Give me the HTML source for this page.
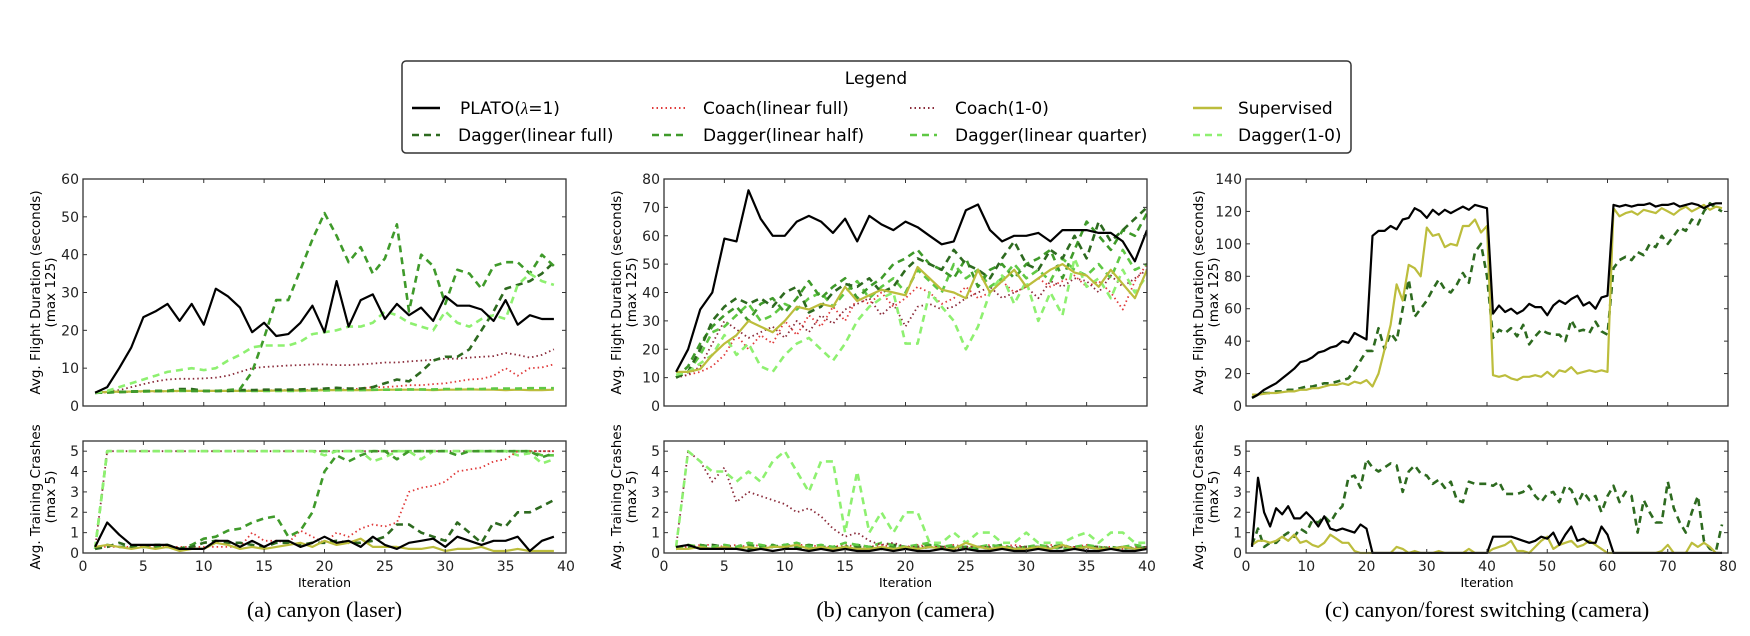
<!DOCTYPE html>
<html><head><meta charset="utf-8"><style>
body{margin:0;background:#fff}
svg{display:block;font-family:"DejaVu Sans","Liberation Sans",sans-serif}
</style></head><body>
<svg id="fig" width="1750" height="636" viewBox="0 0 1750 636">
<g id="legend">
<rect x="402" y="61" width="949" height="92" rx="4" fill="#fff" stroke="#333" stroke-width="1.5"/>
<text x="876" y="84" font-size="17" text-anchor="middle">Legend</text>
<g><line x1="412" y1="108" x2="440" y2="108" stroke="#000" stroke-width="2.5"/><text x="460" y="114" font-size="17">PLATO(<tspan font-family="Liberation Serif" font-style="italic">λ</tspan>=1)</text></g>
<g><line x1="652" y1="108" x2="685" y2="108" stroke="#e03a3a" stroke-width="2" stroke-dasharray="1.5,3"/><text x="703" y="114" font-size="17">Coach(linear full)</text></g>
<g><line x1="910" y1="108" x2="937" y2="108" stroke="#8a2b3a" stroke-width="2" stroke-dasharray="1.5,3"/><text x="955" y="114" font-size="17">Coach(1-0)</text></g>
<g><line x1="1193" y1="108" x2="1222" y2="108" stroke="#bcbd3c" stroke-width="2.5"/><text x="1238" y="114" font-size="17">Supervised</text></g>
<g><line x1="412" y1="135" x2="440" y2="135" stroke="#2d6a1f" stroke-width="2.5" stroke-dasharray="7,5"/><text x="458" y="141" font-size="17">Dagger(linear full)</text></g>
<g><line x1="652" y1="135" x2="685" y2="135" stroke="#3f9a2a" stroke-width="2.5" stroke-dasharray="7,5"/><text x="703" y="141" font-size="17">Dagger(linear half)</text></g>
<g><line x1="910" y1="135" x2="937" y2="135" stroke="#5fc844" stroke-width="2.5" stroke-dasharray="7,5"/><text x="955" y="141" font-size="17">Dagger(linear quarter)</text></g>
<g><line x1="1193" y1="135" x2="1222" y2="135" stroke="#8ef070" stroke-width="2.5" stroke-dasharray="7,5"/><text x="1238" y="141" font-size="17">Dagger(1-0)</text></g>
</g>
</svg>
<script>
// ---------- data: panel (a) canyon laser ----------
const aPlato=[3.5,5,10,15.5,23.5,25,27,22.5,27,21.5,31,29,26,19.5,22,18.5,19,22,26.5,19.5,33,21,28,29.5,23,27,24,26,22.5,29,26.5,26.5,25.5,22.5,28,21.5,24,23,23];
const aDagHalf=[3.5,3.6,3.7,3.8,3.9,4,4,4.2,4,4,4,4.2,4.5,9,18,28,28,36,44,51,45,38,42,35,39,48,25,40,37,27,36,35,31,37,38,38,35,40,37];
const aDagFull=[3.5,3.6,3.7,3.8,3.9,4,4,4.5,4.5,4,4,4,4.2,4.2,4.3,4.3,4.3,4.4,4.5,4.6,4.8,4.6,4.6,5,6,7,6.5,9,12,13,13,15,20,25,31,32,33,35,38];
const aDagQuarter=[3.5,3.6,3.7,3.8,3.8,3.9,4,4,4,4,4,4,4,4,4,4,4,4,4.1,4.1,4.2,4.2,4.2,4.3,4.3,4.3,4.4,4.4,4.4,4.5,4.5,4.5,4.5,4.6,4.6,4.6,4.7,4.7,4.7];
const aDag10=[3.5,4,5,6,7,8,9,9.5,10,9.5,10,12,13.5,15.5,16,16,16,17,19,19.5,20,21,21,22,25,24,22,21,20,25,22,21,23,24,23,32,35,33,32];
const aCoachFull=[3.5,3.6,3.7,3.7,3.8,3.8,3.9,3.9,4,4,4,4,4.1,4.1,4.1,4.2,4.2,4.2,4.3,4.3,4.3,4.4,4.6,5,5,5.2,5.5,5.5,5.8,6,6.5,7,7.2,8,10,8,10,10.2,11];
const aCoach10=[3.5,3.8,4.2,5,5.8,6.5,7,7.2,7.2,7.3,7.5,8,9,10,10.3,10.5,10.7,10.8,11,11,10.8,10.8,11,11.2,11.5,11.5,11.8,12,12.2,12.5,12.5,12.8,13,13.2,14,13.5,12.8,13.5,15];
const aSup=[3.6,3.7,3.8,3.8,3.9,3.9,3.9,4,4,4,4,4,4,4,4,4.1,4.1,4.1,4.1,4.2,4.2,4.2,4.2,4.2,4.3,4.3,4.3,4.3,4.2,4.3,4.3,4.4,4.3,4.3,4.2,4.3,4.2,4.2,4.3];
const abPlato=[0.3,1.5,0.9,0.4,0.4,0.4,0.4,0.2,0.2,0.2,0.6,0.6,0.3,0.6,0.3,0.6,0.6,0.3,0.5,0.8,0.5,0.6,0.3,0.8,0.4,0.2,0.5,0.6,0.7,0.3,0.8,0.6,0.4,0.6,0.6,0.8,0.1,0.6,0.8];
const abSup=[0.3,0.4,0.3,0.2,0.3,0.2,0.3,0.1,0.2,0.2,0.5,0.4,0.2,0.3,0.2,0.3,0.4,0.5,0.3,0.6,0.4,0.5,0.7,0.3,0.3,0.3,0.2,0.2,0.3,0.1,0.2,0.2,0.3,0.1,0.1,0.2,0.1,0.1,0.1];
const abDagHalf=[0.2,0.4,0.3,0.3,0.3,0.3,0.3,0.2,0.4,0.7,0.8,1.1,1.2,1.5,1.7,1.8,0.8,1.1,2,4,4.8,4.5,4.8,5,5,4.6,5,5,5,5,4.8,5,5,5,5,5,5,4.7,4.9];
const abDagFull=[0.2,0.3,0.5,0.3,0.3,0.4,0.4,0.2,0.3,0.5,0.6,0.5,0.5,0.4,0.3,0.5,0.5,0.4,0.5,0.5,0.6,0.5,0.5,0.6,0.8,1.4,1.4,1,0.8,0.6,1.5,1,0.5,1.5,1.3,2,2,2.3,2.6];
const abCoachFull=[0.3,0.3,0.3,0.3,0.3,0.3,0.3,0.3,0.3,0.3,0.3,0.3,0.3,1,0.6,0.6,0.5,1.1,0.8,0.5,1,0.8,1.2,1.4,1.3,1.5,3,3.2,3.3,3.5,4,4.1,4.2,4.5,4.6,5,5,5,5];
const abCoach10=[0.2,5,5,5,5,5,5,5,5,5,5,5,5,5,5,5,5,5,5,5,5,5,5,5,5,5,5,5,5,5,5,5,5,5,5,5,5,5,5];
const abDagQuarter=[0.2,5,5,5,5,5,5,5,5,5,5,5,5,5,5,5,5,5,5,5,5,5,5,5,5,5,5,5,5,5,5,5,5,5,5,5,5,4.8,4.8];
const abDag10=[0.2,5,5,5,5,5,5,5,5,5,5,5,5,5,5,5,5,5,5,4.8,5,5,5,4.5,4.7,5,5,4.6,5,5,5,5,5,5,5,4.8,4.9,4.4,4.6];
// ---------- data: panel (b) canyon camera ----------
const bPlato=[12,20,34,40,59,58,76,66,60,60,65,67,65,61,66,58,67,64,62,65,63,60,57,58,69,71,62,58,60,60,61,58,62,62,62,61,61,58,51,62];
const bSup=[12,12,13,18,22,25,30,28,26,30,35,34,36,35,42,37,39,41,40,39,49,45,41,40,38,48,40,44,48,42,45,48,50,47,46,42,48,43,38,48];
const bDag10=[11,12,15,18,25,18,22,14,12,18,22,24,20,16,22,30,35,38,40,22,22,40,35,30,20,28,40,46,36,44,30,40,32,52,42,45,38,48,40,46];
const bDagFull=[10,12,20,30,35,38,36,38,35,40,42,33,35,40,43,42,45,40,42,48,52,50,48,55,50,48,45,52,58,50,48,55,52,60,52,65,58,62,66,70];
const bDagHalf=[10,14,22,28,32,35,30,36,38,33,38,44,38,42,45,38,42,45,50,52,55,50,48,45,52,42,48,50,45,50,52,55,45,55,65,60,55,62,60,68];
const bDagQuarter=[10,12,18,26,28,32,36,30,32,36,34,38,40,35,40,44,38,42,45,40,48,44,40,50,45,48,42,45,50,45,48,44,52,48,46,50,45,55,48,50];
const bCoachFull=[10,11,12,14,18,25,20,25,22,30,25,32,28,35,30,38,36,40,35,38,42,40,36,38,42,38,40,44,40,42,45,42,44,46,42,44,40,34,44,50];
const bCoach10=[10,11,14,22,30,27,24,26,28,24,30,26,32,29,34,36,38,32,36,28,35,36,34,35,38,40,42,38,40,42,38,44,42,45,44,40,46,42,45,48];
const bbDag10=[0.3,5,4.5,4,4,3.5,4,3.5,4.5,5,4,3,4.5,4.5,1,4,1,2,1,2,2,0.5,0.5,1,0.5,1,1,0.5,0.5,1,0.5,0.5,0.5,0.8,1,0.5,1,1,0.5,0.5];
const bbCoach10=[0.3,5,4.5,3.5,4.2,2.5,3,2.8,2.6,2.4,2,2.2,1.8,1.2,0.8,1,0.6,0.4,0.5,0.3,0.3,0.3,0.3,0.2,0.3,0.3,0.3,0.2,0.3,0.3,0.2,0.3,0.3,0.3,0.2,0.3,0.2,0.3,0.2,0.3];
const bbDagQuarter=[0.2,0.4,0.3,0.3,0.4,0.3,0.5,0.4,0.3,0.4,0.5,0.3,0.4,0.3,0.5,0.4,0.3,0.5,0.4,0.3,0.4,0.5,0.3,0.4,0.2,0.3,0.4,0.3,0.2,0.3,0.4,0.3,0.2,0.3,0.4,0.3,0.2,0.3,0.4,0.3];
const bbDagHalf=[0.3,0.3,0.4,0.3,0.2,0.3,0.4,0.3,0.4,0.2,0.3,0.4,0.3,0.2,0.3,0.4,0.3,0.2,0.3,0.2,0.3,0.4,0.2,0.3,0.3,0.2,0.3,0.4,0.2,0.3,0.2,0.3,0.4,0.2,0.3,0.2,0.3,0.2,0.3,0.2];
const bbDagFull=[0.2,0.3,0.3,0.4,0.3,0.3,0.2,0.3,0.3,0.4,0.3,0.2,0.3,0.3,0.2,0.3,0.3,0.2,0.4,0.3,0.2,0.3,0.3,0.2,0.3,0.3,0.2,0.3,0.2,0.3,0.3,0.2,0.3,0.2,0.3,0.3,0.2,0.3,0.2,0.3];
const bbCoachFull=[0.2,0.3,0.4,0.4,0.3,0.4,0.3,0.4,0.3,0.3,0.4,0.4,0.3,0.3,0.4,0.3,0.3,0.4,0.3,0.3,0.4,0.3,0.3,0.4,0.3,0.3,0.4,0.3,0.4,0.3,0.3,0.4,0.3,0.3,0.4,0.3,0.3,0.2,0.3,0.3];
const bbPlato=[0.3,0.4,0.2,0.2,0.2,0.2,0.1,0.2,0.1,0.2,0.2,0.1,0.2,0.1,0.2,0.1,0.1,0.2,0.1,0.2,0.1,0.1,0.2,0.1,0.2,0.1,0.1,0.2,0.1,0.1,0.2,0.1,0.1,0.2,0.1,0.1,0.2,0.1,0.1,0.2];
const bbSup=[0.2,0.2,0.3,0.2,0.3,0.2,0.3,0.2,0.3,0.3,0.4,0.2,0.3,0.2,0.3,0.2,0.2,0.3,0.2,0.3,0.2,0.3,0.2,0.2,0.5,0.3,0.2,0.3,0.2,0.2,0.3,0.2,0.4,0.2,0.3,0.2,0.2,0.3,0.2,0.2];
// ---------- data: panel (c) switching ----------
const cPlato=[5,7,10,12,14,17,20,23,27,28,30,33,34,36,37,40,39,45,43,41,105,108,108,111,109,115,116,122,120,116,121,118,121,119,121,123,121,124,123,122,57,62,58,60,57,59,63,61,61,56,62,65,63,66,68,62,64,60,67,68,124,123,124,123,124,124,125,123,124,124,125,123,124,125,124,122,124,125,125];
const cSup=[7,7,7.5,8,8,8.5,9,9,10,10,11,11,12,13,13,14,13,15,14,16,12,20,35,50,75,65,87,85,80,110,105,106,98,100,99,111,111,115,107,111,19,18,19,17,16,18,18,19,18,21,18,22,21,24,20,21,22,21,22,21,122,117,119,120,118,121,120,119,122,120,118,121,123,120,122,124,121,123,122];
const cDagFull=[5,7,8,8,9,9,10,10,11,12,12,13,14,14,15,16,17,22,28,34,34,48,35,45,40,60,78,55,60,65,72,78,72,70,75,82,76,95,100,80,42,47,45,48,43,50,38,43,47,45,44,44,40,53,46,47,45,52,46,44,85,90,92,90,95,93,100,98,105,100,105,110,108,115,112,120,125,122,120];
const cbPlato=[0.3,3.7,2,1.3,2.2,1.9,2.3,1.7,1.7,2,1.7,1.3,1.8,1.2,1.1,1.2,1.1,1,1.4,1.2,0,0,0,0,0,0,0,0,0,0,0,0,0,0,0,0,0,0,0,0,0.8,0.8,0.8,0.8,0.7,0.6,0.5,0.6,0.8,0.7,1,0.4,0.9,1.3,0.6,0.7,0.5,0.5,1.3,0.9,0,0,0,0,0,0,0,0,0,0,0,0,0,0,0,0,0,0,0];
const cbSup=[0.4,0.6,0.6,0.5,0.6,0.8,0.6,0.9,0.5,0.6,0.4,0.3,0.5,0.9,0.7,0.5,0.5,0.1,0,0,0,0,0,0,0.3,0.2,0,0.1,0,0,0,0.1,0,0,0,0,0.2,0,0,0,0.2,0.3,0.4,0.6,0.1,0.1,0,0.3,0.6,0.8,0.2,0.4,0.5,0.6,0.3,0.4,0.6,0.4,0.2,0,0,0,0,0,0,0,0,0,0.1,0.4,0,0,0,0.5,0.3,0.5,0.3,0,0];
const cbDagFull=[0.4,1.2,0.3,0.5,0.5,0.8,1,0.8,1.2,1,1.6,1.5,1.8,1.5,2,2.3,3.7,3.8,3.2,4.6,4.2,4,4.2,4.4,4.3,3,4,4.3,3.9,3.8,3.4,3.6,3.2,3.5,2.6,2.5,3.5,3.4,3.4,3.4,3.3,3.5,2.9,2.9,2.9,3,3.3,2.8,2.5,2.9,3,2.5,3.3,3.1,2.4,3,2.6,2.8,2,2.8,3.3,2.5,3,2.8,1,2.6,2,1.5,1.5,3.5,2.2,1.5,1,2,2.8,0.6,0.2,0.1,1.4];
// ---------- tick labels ----------
const ticksX40=[0,5,10,15,20,25,30,35,40];
const ticksX80=[0,10,20,30,40,50,60,70,80];
const ticksYa=[0,10,20,30,40,50,60];
const ticksYb=[0,10,20,30,40,50,60,70,80];
const ticksYc=[0,20,40,60,80,100,120,140];
const ticksCrash=[0,1,2,3,4,5];

const NS='http://www.w3.org/2000/svg';
const svg=document.getElementById('fig');
const ST={
 plato:{c:'#000',w:2.2,d:null},
 sup:{c:'#bcbd3c',w:2.2,d:null},
 dagFull:{c:'#2d6a1f',w:2.6,d:'7,5'},
 dagHalf:{c:'#3f9a2a',w:2.6,d:'7,5'},
 dagQuarter:{c:'#5fc844',w:2.6,d:'7,5'},
 dag10:{c:'#8ef070',w:2.6,d:'7,5'},
 coachFull:{c:'#e03a3a',w:1.8,d:'1.5,3'},
 coach10:{c:'#8a2b3a',w:1.8,d:'1.5,3'}
};
function mk(tag,attrs,parent){const e=document.createElementNS(NS,tag);for(const k in attrs)e.setAttribute(k,attrs[k]);(parent||svg).appendChild(e);return e;}
function axes(name,x0,x1,y0,y1,xmax,ymax,xt,yt,showXLabels,title){
 const g=mk('g',{});
 
 
 const sx=v=>x0+(x1-x0)*v/xmax, sy=v=>y1-(y1-y0)*v/ymax;
 const clipId='clip-'+name;
 const cp=mk('clipPath',{id:clipId},g);mk('rect',{x:x0,y:y0-2,width:x1-x0,height:y1-y0+3},cp);
 const lines=mk('g',{'clip-path':'url(#'+clipId+')'},g);
 const fr=mk('rect',{x:x0,y:y0,width:x1-x0,height:y1-y0,fill:'none',stroke:'#333','stroke-width':1.3},g);
 
 
 xt.forEach(v=>{const X=sx(v);
  mk('line',{x1:X,y1:y1,x2:X,y2:y1-4,stroke:'#333'},g);mk('line',{x1:X,y1:y0,x2:X,y2:y0+4,stroke:'#333'},g);
  if(showXLabels){const t=mk('text',{x:X,y:y1+18,'font-size':14,'text-anchor':'middle',fill:'#222'},g);t.textContent=v;
   
   }
 });
 yt.forEach(v=>{const Y=sy(v);
  mk('line',{x1:x0,y1:Y,x2:x0+4,y2:Y,stroke:'#333'},g);mk('line',{x1:x1,y1:Y,x2:x1-4,y2:Y,stroke:'#333'},g);
  const t=mk('text',{x:x0-4,y:Y+5,'font-size':14,'text-anchor':'end',fill:'#222'},g);t.textContent=v;
  
  
 });
 const cy=(y0+y1)/2;
 const a1=x0-43, a2=x0-28;
 const t1=mk('text',{x:a1,y:cy,'font-size':13.5,'text-anchor':'middle',transform:`rotate(-90 ${a1} ${cy})`},g);t1.textContent=title[0];
 
 
 const t2=mk('text',{x:a2,y:cy,'font-size':13.5,'text-anchor':'middle',transform:`rotate(-90 ${a2} ${cy})`},g);t2.textContent=title[1];
 
 
 return {sx,sy,lines};
}
function series(ax,vals,style,name){
 const s=ST[style];
 const pts=vals.map((v,i)=>ax.sx(i+1).toFixed(1)+','+ax.sy(v).toFixed(1)).join(' ');
 const p=mk('polyline',{points:pts,fill:'none',stroke:s.c,'stroke-width':s.w,'stroke-linejoin':'round'},ax.lines);
 if(s.d)p.setAttribute('stroke-dasharray',s.d);
 
 
}
const TT=['Avg. Flight Duration (seconds)','(max 125)'], TB=['Avg. Training Crashes','(max 5)'];
const P=[{x0:83,x1:566},{x0:664,x1:1147},{x0:1246,x1:1728}];
const Y0=179,Y1=406,B0=441,B1=553;
// panel a
let A=axes('panel-a-duration',P[0].x0,P[0].x1,Y0,Y1,40,60,ticksX40,ticksYa,false,TT);
series(A,aCoachFull,'coachFull','a-coach-linear-full');series(A,aCoach10,'coach10','a-coach-1-0');
series(A,aSup,'sup','a-supervised');series(A,aDagQuarter,'dagQuarter','a-dagger-linear-quarter');
series(A,aDagFull,'dagFull','a-dagger-linear-full');series(A,aDagHalf,'dagHalf','a-dagger-linear-half');
series(A,aDag10,'dag10','a-dagger-1-0');series(A,aPlato,'plato','a-plato');
let AB=axes('panel-a-crashes',P[0].x0,P[0].x1,B0,B1,40,5.5,ticksX40,ticksCrash,true,TB);
series(AB,abCoach10,'coach10','a-crash-coach-1-0');series(AB,abDagQuarter,'dagQuarter','a-crash-dagger-quarter');
series(AB,abDag10,'dag10','a-crash-dagger-1-0');series(AB,abCoachFull,'coachFull','a-crash-coach-full');
series(AB,abDagHalf,'dagHalf','a-crash-dagger-half');series(AB,abDagFull,'dagFull','a-crash-dagger-full');
series(AB,abSup,'sup','a-crash-supervised');series(AB,abPlato,'plato','a-crash-plato');
// panel b
let B=axes('panel-b-duration',P[1].x0,P[1].x1,Y0,Y1,40,80,ticksX40,ticksYb,false,TT);
series(B,bCoachFull,'coachFull','b-coach-linear-full');series(B,bCoach10,'coach10','b-coach-1-0');
series(B,bDagQuarter,'dagQuarter','b-dagger-linear-quarter');series(B,bDagHalf,'dagHalf','b-dagger-linear-half');
series(B,bDagFull,'dagFull','b-dagger-linear-full');series(B,bDag10,'dag10','b-dagger-1-0');
series(B,bSup,'sup','b-supervised');series(B,bPlato,'plato','b-plato');
let BB=axes('panel-b-crashes',P[1].x0,P[1].x1,B0,B1,40,5.5,ticksX40,ticksCrash,true,TB);
series(BB,bbCoachFull,'coachFull','b-crash-coach-full');series(BB,bbDagFull,'dagFull','b-crash-dagger-full');
series(BB,bbDagHalf,'dagHalf','b-crash-dagger-half');series(BB,bbDagQuarter,'dagQuarter','b-crash-dagger-quarter');
series(BB,bbCoach10,'coach10','b-crash-coach-1-0');series(BB,bbDag10,'dag10','b-crash-dagger-1-0');
series(BB,bbSup,'sup','b-crash-supervised');series(BB,bbPlato,'plato','b-crash-plato');
// panel c
let C=axes('panel-c-duration',P[2].x0,P[2].x1,Y0,Y1,80,140,ticksX80,ticksYc,false,TT);
series(C,cDagFull,'dagFull','c-dagger-linear-full');series(C,cSup,'sup','c-supervised');series(C,cPlato,'plato','c-plato');
let CB=axes('panel-c-crashes',P[2].x0,P[2].x1,B0,B1,80,5.5,ticksX80,ticksCrash,true,TB);
series(CB,cbDagFull,'dagFull','c-crash-dagger-full');series(CB,cbSup,'sup','c-crash-supervised');series(CB,cbPlato,'plato','c-crash-plato');
// x labels and captions
const caps=['(a) canyon (laser)','(b) canyon (camera)','(c) canyon/forest switching (camera)'];
P.forEach((p,i)=>{
 const cx=(p.x0+p.x1)/2;
 const t=mk('text',{x:cx,y:587,'font-size':12.5,'text-anchor':'middle'});t.textContent='Iteration';
 
 
 const c=mk('text',{x:cx,y:617,'font-size':22,'text-anchor':'middle','font-family':'Liberation Serif, serif'});c.textContent=caps[i];
 
 
});
</script>
</body></html>
